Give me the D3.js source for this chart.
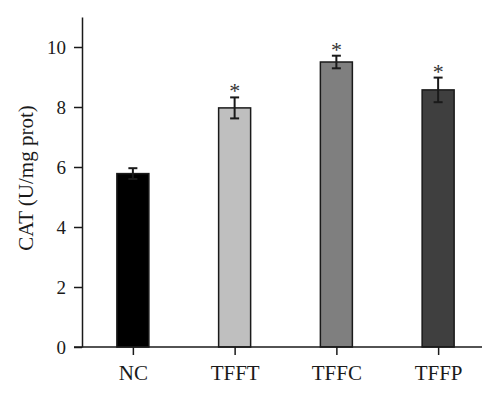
<!DOCTYPE html>
<html><head><meta charset="utf-8">
<script src="https://cdn.jsdelivr.net/npm/d3@7/dist/d3.min.js"></script>
<style>body{margin:0;background:#fff}svg{display:block}text{font-family:"Liberation Serif","DejaVu Serif",serif}</style>
</head><body><svg id="c" width="500" height="397"></svg>
<script>
const categories = ["NC","TFFT","TFFC","TFFP"];
const values = [5.78, 7.97, 9.5, 8.57];
const errors = [0.18, 0.35, 0.21, 0.41];
const significant = [false, true, true, true];
const colors = ["#000000","#bfbfbf","#7f7f7f","#3f3f3f"];
const yTicks = [0,2,4,6,8,10];

const svg = d3.select("#c");
const y = d3.scaleLinear().domain([0,11]).range([347,17]);
const x = d3.scalePoint().domain(categories).range([82,489]).padding(0.5);
const bw = 32;
const ink = "#1a1a1a";

// bars
svg.selectAll("rect.bar").data(categories).enter().append("rect")
  .attr("x", d=>x(d)-bw/2).attr("width", bw)
  .attr("y", (d,i)=>y(values[i])).attr("height",(d,i)=>y(0)-y(values[i]))
  .attr("fill",(d,i)=>colors[i]).attr("stroke",ink).attr("stroke-width",1.5);

// error bars
const eg = svg.selectAll("g.err").data(categories).enter().append("g")
  .attr("stroke",ink).attr("stroke-width",2);
eg.append("line").attr("x1",d=>x(d)).attr("x2",d=>x(d))
  .attr("y1",(d,i)=>y(values[i]+errors[i])).attr("y2",(d,i)=>y(values[i]-errors[i]));
eg.append("line").attr("x1",d=>x(d)-4.5).attr("x2",d=>x(d)+4.5)
  .attr("y1",(d,i)=>y(values[i]+errors[i])).attr("y2",(d,i)=>y(values[i]+errors[i]));
eg.append("line").attr("x1",d=>x(d)-4.5).attr("x2",d=>x(d)+4.5)
  .attr("y1",(d,i)=>y(values[i]-errors[i])).attr("y2",(d,i)=>y(values[i]-errors[i]));

// stars
svg.selectAll("text.star").data(categories.filter((d,i)=>significant[i])).enter().append("text")
  .attr("x",d=>x(d)).attr("y",d=>{const i=categories.indexOf(d);return y(values[i]+errors[i])+1;})
  .attr("text-anchor","middle").attr("font-size",22).attr("fill","#333").text("*");

// y axis
const ya = svg.append("g").attr("transform","translate(82,0)")
  .call(d3.axisLeft(y).tickValues(yTicks).tickSize(8).tickPadding(8).tickSizeOuter(0));
ya.select(".domain").attr("stroke",ink).attr("stroke-width",1.5);
ya.selectAll(".tick line").attr("stroke",ink).attr("stroke-width",1.5);
ya.selectAll(".tick text").attr("font-size",19).attr("fill",ink);

// x axis
const xa = svg.append("g").attr("transform","translate(0,347)")
  .call(d3.axisBottom(x).tickSize(8).tickPadding(10).tickSizeOuter(0));
xa.select(".domain").remove();
xa.append("line").attr("x1",74).attr("x2",482).attr("stroke",ink).attr("stroke-width",1.5);
xa.selectAll(".tick line").attr("stroke",ink).attr("stroke-width",1.5);
xa.selectAll(".tick text").attr("font-size",21).attr("fill",ink);

// y label
svg.append("text").attr("transform","translate(33,178) rotate(-90)")
  .attr("text-anchor","middle").attr("font-size",21).attr("fill",ink).text("CAT (U/mg prot)");
</script></body></html>
